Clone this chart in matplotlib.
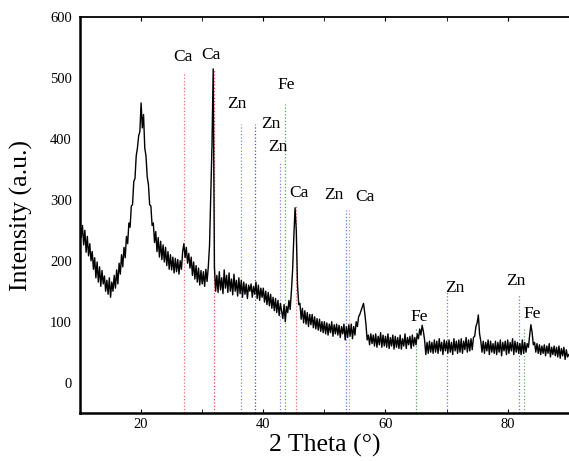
import numpy as np
import matplotlib.pyplot as plt

plt.rcParams['font.family'] = ['Liberation Serif', 'DejaVu Serif']

# XRD 图谱 (2θ 采样 0.2°)
two_theta = np.arange(10.0, 90.01, 0.2)
intensity = [
    262, 238, 258, 226, 250, 214, 240, 208, 228, 200,
    215, 186, 205, 172, 198, 165, 190, 158, 184, 162,
    175, 150, 168, 145, 172, 140, 165, 150, 176, 155,
    185, 162, 196, 178, 210, 190, 222, 205, 240, 228,
    262, 255, 290, 292, 330, 335, 372, 385, 405, 412,
    459, 418, 440, 385, 372, 338, 325, 292, 290, 258,
    262, 230, 248, 215, 238, 206, 232, 202, 226, 198,
    222, 192, 215, 186, 210, 185, 206, 180, 204, 182,
    202, 178, 200, 186, 215, 228, 205, 222, 196, 212,
    188, 206, 176, 198, 170, 192, 165, 188, 160, 184,
    162, 182, 158, 186, 166, 190, 225, 310, 388, 515,
    190, 150, 176, 148, 182, 152, 172, 146, 185, 155,
    176, 148, 180, 150, 170, 144, 178, 150, 168, 142,
    172, 146, 168, 140, 165, 145, 162, 138, 160, 150,
    162, 140, 158, 145, 165, 138, 160, 135, 155, 140,
    155, 132, 150, 128, 148, 126, 145, 122, 140, 118,
    138, 115, 135, 110, 130, 118, 105, 128, 100, 125,
    115, 135, 120, 150, 185, 240, 287, 250, 160, 128,
    130, 104, 122, 98, 118, 96, 115, 92, 112, 95,
    112, 90, 108, 88, 105, 86, 104, 84, 100, 82,
    100, 80, 98, 78, 96, 82, 100, 76, 95, 80,
    96, 78, 94, 74, 92, 80, 96, 70, 92, 74,
    95, 76, 96, 72, 92, 78, 100, 92, 108, 112,
    118, 124, 130, 115, 96, 70, 78, 62, 80, 64,
    78, 60, 80, 58, 76, 62, 82, 58, 78, 60,
    76, 58, 80, 56, 74, 60, 78, 55, 76, 58,
    74, 56, 78, 55, 72, 60, 80, 56, 74, 62,
    76, 56, 78, 60, 74, 62, 80, 72, 88, 78,
    94, 84, 70, 46, 66, 48, 68, 50, 66, 48,
    70, 50, 68, 48, 72, 52, 66, 46, 70, 52,
    68, 48, 70, 50, 66, 46, 72, 52, 68, 48,
    70, 50, 72, 48, 68, 54, 74, 50, 70, 52,
    72, 54, 74, 76, 92, 98, 111, 80, 68, 50,
    68, 48, 66, 52, 70, 46, 68, 50, 64, 48,
    68, 46, 66, 50, 70, 44, 66, 52, 68, 46,
    70, 48, 66, 52, 72, 46, 68, 50, 66, 48,
    64, 46, 70, 48, 66, 50, 64, 58, 78, 95,
    82, 62, 66, 50, 64, 48, 62, 46, 60, 48,
    62, 44, 60, 48, 64, 42, 58, 46, 60, 44,
    58, 42, 60, 40, 56, 44, 58, 38, 54, 42,
    46,
]

# 标准峰位 (位置, 线顶高度, 颜色)
ref_pos = [27.0, 31.95, 36.4, 38.6, 42.8, 43.6, 45.4, 53.6, 54.1, 65.0, 70.1, 81.8, 82.6]
ref_top = [508, 515, 424, 424, 360, 457, 290, 284, 284, 90, 148, 144, 89]
ref_color = ['#ff6a6a', '#ff4040', '#8080ff', '#5050c0', '#8080ff', '#50a050', '#ff6a6a',
             '#6a6aff', '#ff8080', '#50a050', '#7070ff', '#7070ff', '#60b060']

# 标签
lab_text = ['Ca', 'Ca', 'Zn', 'Zn', 'Zn', 'Fe', 'Ca', 'Zn', 'Ca', 'Fe', 'Zn', 'Zn', 'Fe']
lab_x = [26.8, 31.4, 35.6, 41.2, 42.3, 43.8, 45.9, 51.6, 56.7, 65.5, 71.4, 81.3, 84.0]
lab_y = [534, 538, 457, 425, 387, 489, 311, 308, 305, 107, 156, 166, 113]

fig = plt.figure(figsize=(5.69, 4.61), dpi=100)
ax = fig.add_axes([0.1406, 0.104, 0.859, 0.859])

for p, t, c in zip(ref_pos, ref_top, ref_color):
    ax.vlines(p, -50, t, colors=c, linestyles=':', linewidth=0.9)

ax.plot(two_theta, intensity, color='black', linewidth=1.0)

for s, x, y in zip(lab_text, lab_x, lab_y):
    ax.text(x, y, s, fontsize=12.5, ha='center', va='center')

ax.set_xlim(10, 90)
ax.set_ylim(-50, 600)
ax.set_xticks([20, 40, 60, 80])
ax.set_xticks([10, 30, 50, 70, 90], minor=True)
ax.set_yticks([0, 100, 200, 300, 400, 500, 600])
ax.tick_params(axis='both', which='both', direction='in', top=True, labelsize=10.5, length=3)
ax.tick_params(axis='y', length=0, pad=6)

ax.spines['right'].set_visible(False)
ax.spines['left'].set_linewidth(1.8)
ax.spines['bottom'].set_linewidth(1.8)
ax.spines['top'].set_linewidth(1.3)

ax.set_xlabel('2 Theta (°)', fontsize=18.5, labelpad=2)
ax.set_ylabel('Intensity (a.u.)', fontsize=18.5, labelpad=12)

plt.savefig('out.png', dpi=100)
